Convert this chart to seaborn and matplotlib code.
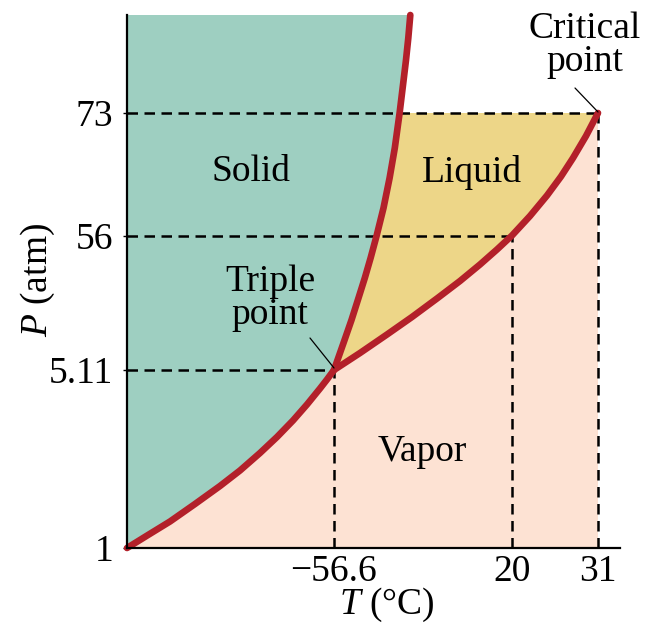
import matplotlib
matplotlib.use("Agg")
import matplotlib.pyplot as plt
import seaborn as sns
import pandas as pd
import numpy as np

# ---- data (schematic diagram units) ----
sub_T = [0, 21, 43, 68, 93, 113, 133, 150, 166, 180, 193, 200, 207]
sub_P = [0, 13, 26.5, 44, 62, 77.5, 95, 111, 127.5, 143.5, 159.5, 168.5, 178]
fus_T = [207, 216.5, 224.5, 231.5, 237.8, 243.6, 249.8, 256.5, 262.6, 267.8,
         272.6, 276, 279, 281.3, 283.3]
fus_P = [178, 205, 228, 250, 270, 290, 313, 340, 370, 400, 435, 463, 488, 510, 533]
vap_T = [207, 233, 260, 285, 310, 333, 353, 370, 385, 403, 420, 434, 446, 459, 471]
vap_P = [178, 195, 213.5, 231, 249.5, 267, 283.5, 298.5, 312.5, 332, 352.5,
         371.5, 390, 412, 435]

x_tick_pos = [207, 385, 471]
x_tick_labels = ["\u221256.6", "20", "31"]
y_tick_pos = [0, 178, 312, 435]
y_tick_labels = ["1", "5.11", "56", "73"]

regions = ["Solid", "Liquid", "Vapor"]

X_MAX, Y_MAX = 493, 533

sns.set_theme(style="white")
plt.rcParams["font.family"] = ["Liberation Serif", "DejaVu Serif"]
plt.rcParams["mathtext.fontset"] = "custom"
plt.rcParams["mathtext.rm"] = "Liberation Serif"
plt.rcParams["mathtext.it"] = "Liberation Serif:italic"
plt.rcParams["text.color"] = "black"
plt.rcParams["axes.labelcolor"] = "black"
plt.rcParams["xtick.color"] = "black"
plt.rcParams["ytick.color"] = "black"

GREEN = "#9ecfc1"
YELLOW = "#edd688"
PINK = "#fde2d3"
RED = "#b3202a"

W, H = 648, 631
fig = plt.figure(figsize=(W / 100, H / 100), dpi=100)
ax = fig.add_axes([127 / W, (H - 548) / H, X_MAX / W, Y_MAX / H])
ax.set_xlim(0, X_MAX)
ax.set_ylim(0, Y_MAX)

# ---- filled regions ----
solid_x = [0] + sub_T + fus_T[1:] + [0]
solid_y = [0] + sub_P + fus_P[1:] + [Y_MAX]
ax.fill(solid_x, solid_y, color=GREEN, lw=0, zorder=1)

fT = np.array(fus_T); fP = np.array(fus_P)
crit_T, crit_P = vap_T[-1], vap_P[-1]
mask = fP <= crit_P
f_cap_T = float(np.interp(crit_P, fP, fT))
liq_x = list(fT[mask]) + [f_cap_T, crit_T] + vap_T[::-1]
liq_y = list(fP[mask]) + [crit_P, crit_P] + vap_P[::-1]
ax.fill(liq_x, liq_y, color=YELLOW, lw=0, zorder=1)

vap_x = sub_T + vap_T[1:] + [crit_T]
vap_y = sub_P + vap_P[1:] + [0]
ax.fill(vap_x, vap_y, color=PINK, lw=0, zorder=1)

# ---- dashed guide lines ----
dash_kw = dict(color="black", lw=1.8, dashes=(4.2, 2.6), zorder=2)
ax.plot([0, sub_T[-1]], [sub_P[-1]] * 2, **dash_kw)
ax.plot([sub_T[-1]] * 2, [0, sub_P[-1]], **dash_kw)
ax.plot([0, x_tick_pos[1]], [y_tick_pos[2]] * 2, **dash_kw)
ax.plot([x_tick_pos[1]] * 2, [0, y_tick_pos[2]], **dash_kw)
ax.plot([0, crit_T], [crit_P] * 2, **dash_kw)
ax.plot([crit_T] * 2, [0, crit_P], **dash_kw)

# ---- phase boundary curves ----
curves = pd.concat([
    pd.DataFrame({"T": sub_T, "P": sub_P, "curve": "sub"}),
    pd.DataFrame({"T": fus_T, "P": fus_P, "curve": "fus"}),
    pd.DataFrame({"T": vap_T, "P": vap_P, "curve": "vap"}),
])
for name, g in curves.groupby("curve"):
    sns.lineplot(data=g, x="T", y="P", sort=False, ax=ax, color=RED, lw=4.8,
                 solid_capstyle="round", solid_joinstyle="round", zorder=3,
                 clip_on=False)

# ---- labels ----
fs = 27
ax.text(124, 376, regions[0], ha="center", va="center", fontsize=fs, zorder=4)
ax.text(345, 376, regions[1], ha="center", va="center", fontsize=fs, zorder=4)
ax.text(295, 96, regions[2], ha="center", va="center", fontsize=fs, zorder=4)
ax.text(143, 250, "Triple\npoint", ha="center", va="center", fontsize=fs,
        linespacing=0.95, zorder=4)
ax.text(458, 503, "Critical\npoint", ha="center", va="center", fontsize=fs,
        linespacing=0.95, zorder=4, clip_on=False)
ax.plot([183, sub_T[-1]], [210, sub_P[-1] + 2], color="black", lw=0.9, zorder=4)
ax.plot([448, crit_T], [460, crit_P + 1], color="black", lw=0.9, zorder=4,
        clip_on=False)

# ---- axes ----
ax.set_xticks(x_tick_pos)
ax.set_xticklabels(x_tick_labels)
ax.set_yticks(y_tick_pos)
ax.set_yticklabels(y_tick_labels)
ax.tick_params(axis="x", length=0, pad=5, labelsize=fs)
ax.tick_params(axis="y", length=3, width=1, direction="out", pad=7,
               labelsize=fs, left=True)
ax.set_xlabel(r"$T$ (°C)", fontsize=fs)
ax.set_ylabel(r"$P$ (atm)", fontsize=fs)
ax.xaxis.set_label_coords((387 - 127) / X_MAX, -(586 - 548) / Y_MAX)
ax.yaxis.set_label_coords(-(127 - 57) / X_MAX, (548 - 280) / Y_MAX)

for s in ["top", "right"]:
    ax.spines[s].set_visible(False)
for s in ["left", "bottom"]:
    ax.spines[s].set_color("black")
    ax.spines[s].set_linewidth(1.6)
    ax.spines[s].set_zorder(5)
ax.grid(False)
ax.set_facecolor("white")

fig.savefig("out.png", dpi=100)
